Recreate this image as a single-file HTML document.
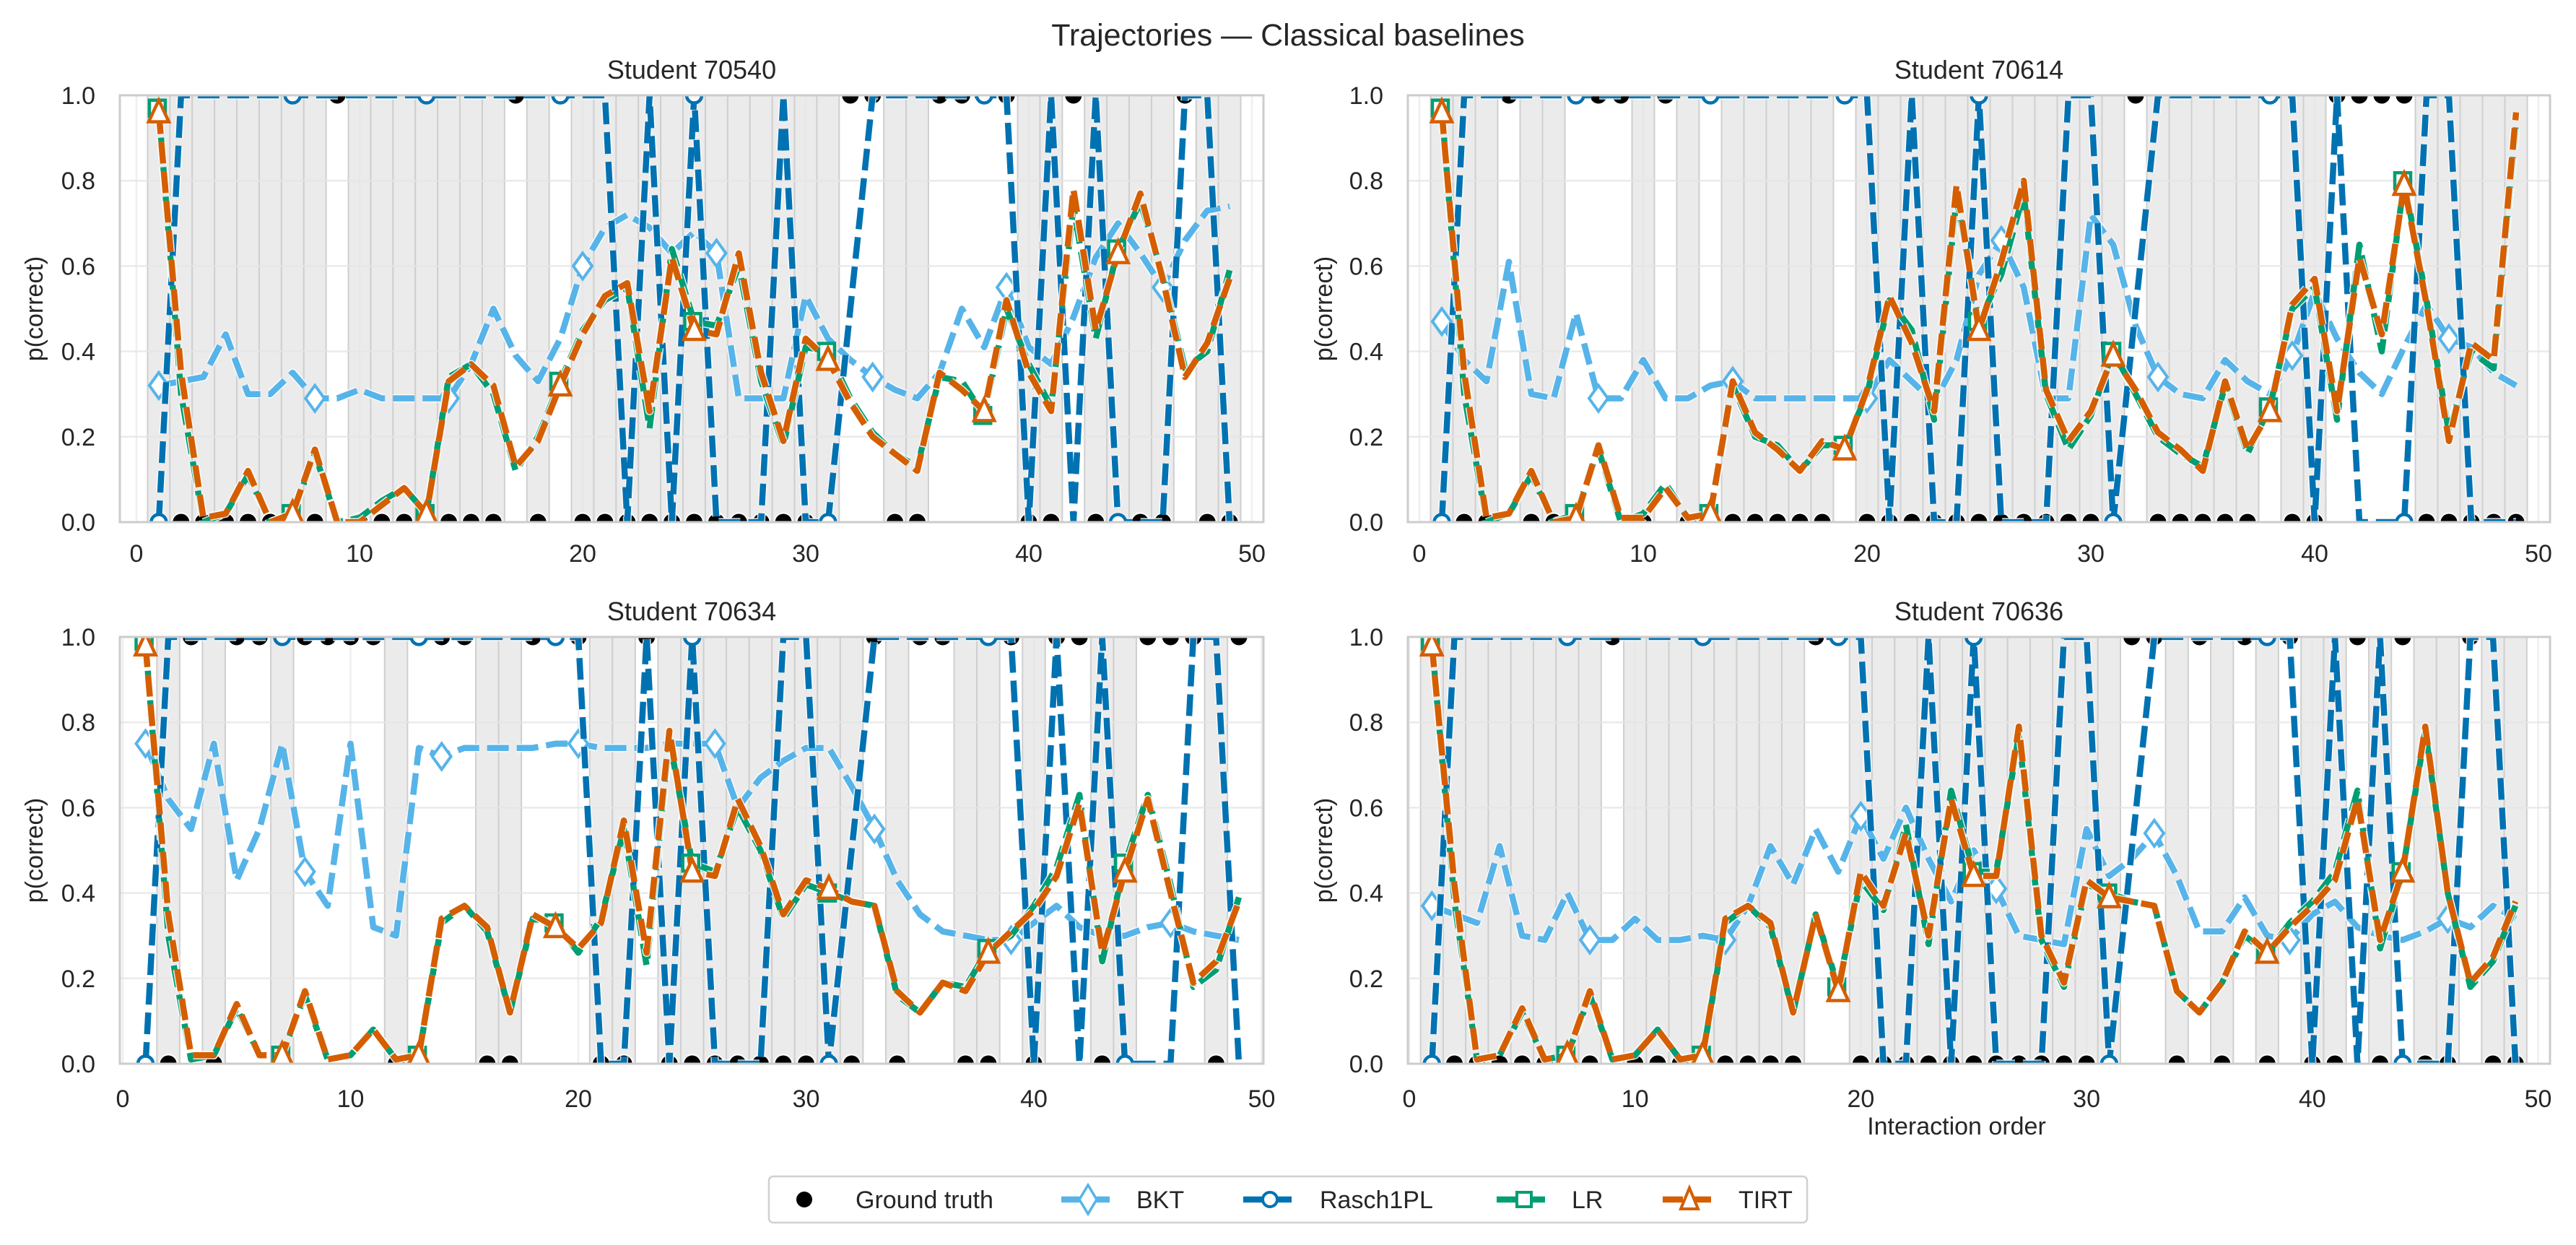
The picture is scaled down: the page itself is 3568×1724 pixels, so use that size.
<!DOCTYPE html>
<html><head><meta charset="utf-8"><style>
html,body{margin:0;padding:0;background:#fff;}
svg{display:block;font-family:"Liberation Sans",Arial,sans-serif;}
</style></head><body>
<svg id="fig" width="3568" height="1724" viewBox="0 0 3568 1724" xmlns="http://www.w3.org/2000/svg">
<rect width="3568" height="1724" fill="#fff"/>
<text x="1784" y="63" font-size="43" text-anchor="middle" fill="#262626">Trajectories — Classical baselines</text>
<g id="panels"></g>
<g>
<rect x="1065" y="1629" width="1438" height="64" rx="6" fill="#fff" stroke="#d0d0d0" stroke-width="2.5"/>
<g><circle cx="1114" cy="1661" r="11" fill="#000"/><text x="1185" y="1673" font-size="34" fill="#262626">Ground truth</text></g>
<g><line x1="1470" y1="1661" x2="1545" y2="1661" stroke="#56B4E9" stroke-width="8.5" stroke-dasharray="28 11"/><path d="M1507 1641 L1519 1661 L1507 1681 L1495 1661 Z" fill="#fff" stroke="#56B4E9" stroke-width="3.5"/><text x="1574" y="1673" font-size="34" fill="#262626">BKT</text></g>
<g><line x1="1722" y1="1661" x2="1797" y2="1661" stroke="#0072B2" stroke-width="8.5" stroke-dasharray="28 11"/><circle cx="1759" cy="1661" r="10" fill="#fff" stroke="#0072B2" stroke-width="4"/><text x="1828" y="1673" font-size="34" fill="#262626">Rasch1PL</text></g>
<g><line x1="2073" y1="1661" x2="2149" y2="1661" stroke="#009E73" stroke-width="8.5" stroke-dasharray="28 11"/><rect x="2101" y="1651" width="20" height="20" fill="#fff" stroke="#009E73" stroke-width="4"/><text x="2177" y="1673" font-size="34" fill="#262626">LR</text></g>
<g><line x1="2303" y1="1661" x2="2378" y2="1661" stroke="#D55E00" stroke-width="8.5" stroke-dasharray="28 11"/><path d="M2340 1645 L2352 1674 L2328 1674 Z" fill="#fff" stroke="#D55E00" stroke-width="4"/><text x="2408" y="1673" font-size="34" fill="#262626">TIRT</text></g>
</g>
</svg>
<script>
// ---- data ----
const students = ["70540","70614","70634","70636"];
const truth1 = [0,0,0,0,0,0,0,0,1,0,0,0,0,0,0,0,1,0,1,0,0,0,0,0,0,0,0,0,0,0,0,1,1,0,0,1,1,1,1,0,0,1,0,0,0,0,1,0,0];
const truth2 = [0,0,0,1,0,0,1,1,1,0,1,0,1,0,0,0,0,0,1,0,0,0,0,0,0,0,0,0,0,0,0,1,0,0,0,0,0,1,0,0,1,1,1,1,0,0,0,0,0];
const truth3 = [1,0,1,0,1,1,0,1,1,1,1,0,1,1,1,0,0,1,1,1,0,0,1,0,0,0,0,0,0,0,0,0,1,0,1,1,0,0,1,0,1,1,0,0,1,1,1,0,1];
const truth4 = [0,0,0,0,0,0,0,0,1,0,0,0,0,0,0,0,0,1,1,0,0,0,0,0,0,0,0,0,0,0,0,1,1,0,1,0,1,0,1,0,0,1,0,1,0,0,1,0,0];
const bkt1 = [.32,.33,.34,.44,.30,.30,.35,.29,.29,.31,.29,.29,.29,.29,.37,.50,.39,.33,.43,.60,.69,.72,.69,.63,.68,.63,.29,.29,.29,.53,.43,.38,.34,.31,.29,.35,.50,.41,.55,.41,.37,.48,.62,.70,.63,.55,.66,.73,.74];
const bkt2 = [.47,.38,.33,.61,.30,.29,.49,.29,.29,.38,.29,.29,.32,.33,.29,.29,.29,.29,.29,.29,.38,.33,.28,.38,.58,.66,.55,.29,.29,.72,.65,.46,.34,.30,.29,.38,.33,.30,.39,.54,.43,.35,.30,.41,.51,.43,.41,.35,.32];
const bkt3 = [.75,.62,.55,.75,.43,.55,.75,.45,.37,.75,.32,.30,.74,.72,.74,.74,.74,.74,.75,.75,.74,.74,.74,.75,.75,.75,.60,.67,.71,.74,.74,.65,.55,.43,.35,.31,.30,.29,.29,.33,.37,.32,.30,.30,.32,.33,.31,.30,.29];
const bkt4 = [.37,.35,.33,.51,.30,.29,.40,.29,.29,.34,.29,.29,.30,.29,.37,.51,.42,.55,.45,.58,.48,.60,.48,.38,.50,.41,.30,.29,.28,.55,.44,.48,.54,.44,.31,.31,.39,.30,.29,.35,.38,.32,.30,.29,.31,.34,.32,.37,.34];
const rasch1 = [0,1,1,1,1,1,1,1,1,1,1,1,1,1,1,1,1,1,1,1,1,0,1,0,1,0,0,0,1,0,0,.5,1,1,1,1,1,1,1,0,1,0,1,0,0,0,1,1,0];
const rasch2 = [0,1,1,1,1,1,1,1,1,1,1,1,1,1,1,1,1,1,1,1,0,1,0,0,1,0,0,0,1,1,0,.5,1,1,1,1,1,1,1,0,1,0,0,0,1,1,0,0,0];
const rasch3 = [0,1,1,1,1,1,1,1,1,1,1,1,1,1,1,1,1,1,1,1,0,0,1,0,1,0,0,0,1,1,0,.5,1,1,1,1,1,1,1,0,1,0,1,0,0,0,1,1,0];
const rasch4 = [0,1,1,1,1,1,1,1,1,1,1,1,1,1,1,1,1,1,1,1,0,0,1,0,1,0,0,0,1,1,0,.5,1,1,1,1,1,1,1,0,1,0,1,0,0,0,1,1,0];
const lr1 = [.97,.30,0,.02,.11,0,.02,.16,0,.01,.05,.08,.02,.34,.37,.30,.12,.20,.33,.45,.52,.55,.22,.64,.47,.46,.60,.33,.18,.41,.40,.29,.21,.16,.13,.34,.33,.25,.50,.37,.27,.74,.43,.64,.75,.58,.36,.40,.59];
const lr2 = [.97,.30,0,.02,.11,0,.02,.17,0,.02,.09,.01,.02,.32,.20,.18,.12,.18,.18,.30,.52,.45,.24,.76,.47,.58,.77,.30,.17,.25,.40,.30,.20,.16,.13,.32,.16,.27,.50,.55,.24,.65,.40,.80,.52,.21,.40,.36,.93];
const lr3 = [.99,.30,.01,.02,.13,.02,.02,.16,.01,.02,.08,.01,.02,.33,.37,.31,.12,.34,.33,.26,.34,.55,.23,.76,.47,.45,.60,.50,.34,.42,.40,.38,.37,.16,.12,.19,.18,.27,.30,.37,.46,.63,.24,.47,.63,.42,.18,.22,.39];
const lr4 = [.99,.38,.01,.02,.12,.01,.02,.16,.01,.02,.08,.01,.02,.33,.37,.32,.12,.35,.18,.43,.36,.56,.28,.64,.45,.45,.77,.29,.18,.42,.40,.38,.37,.17,.12,.19,.30,.26,.33,.38,.45,.64,.27,.45,.78,.40,.18,.24,.37];
const tirt1 = [.96,.35,.01,.02,.12,0,.02,.17,0,0,.04,.08,.02,.33,.37,.32,.13,.19,.32,.44,.53,.56,.26,.62,.45,.44,.63,.35,.19,.43,.38,.28,.20,.16,.12,.35,.31,.26,.52,.35,.26,.78,.45,.63,.77,.57,.34,.42,.57];
const tirt2 = [.96,.35,.01,.02,.12,0,.01,.18,.01,.01,.08,.01,.02,.33,.21,.17,.12,.19,.17,.31,.53,.42,.26,.79,.45,.61,.80,.31,.19,.26,.39,.31,.21,.17,.12,.33,.17,.26,.51,.57,.26,.62,.44,.79,.51,.19,.42,.38,.96];
const tirt3 = [.98,.35,.02,.02,.14,.02,.02,.17,.01,.02,.08,.01,.02,.34,.37,.32,.12,.35,.32,.27,.33,.57,.26,.78,.45,.44,.62,.51,.35,.43,.41,.38,.37,.17,.12,.19,.17,.26,.31,.36,.44,.61,.26,.45,.62,.40,.19,.24,.38];
const tirt4 = [.98,.42,.01,.02,.13,.01,.02,.17,.01,.02,.08,.01,.02,.34,.37,.33,.12,.35,.17,.45,.37,.54,.30,.62,.44,.44,.79,.30,.19,.43,.39,.38,.37,.17,.12,.19,.31,.26,.32,.37,.43,.62,.29,.45,.79,.40,.19,.25,.38];
const xTicks = [0,10,20,30,40,50];
const yTicks = [0,0.2,0.4,0.6,0.8,1.0];
const yTickLabels = ["0.0","0.2","0.4","0.6","0.8","1.0"];
const bktMarkIdx = [0,7,13,19,25,32,38,45];
const otherMarkIdx = [0,6,12,18,24,30,37,43];

const truths=[truth1,truth2,truth3,truth4], bkts=[bkt1,bkt2,bkt3,bkt4], raschs=[rasch1,rasch2,rasch3,rasch4], lrs=[lr1,lr2,lr3,lr4], tirts=[tirt1,tirt2,tirt3,tirt4];
const layout=[
 {L:166,R:1750,T:132,B:723,x0:189,u:30.9,ylab:50,tickR:132,xlabY:778},
 {L:1950,R:3532,T:132,B:723,x0:1966,u:31.0,ylab:1836,tickR:1916,xlabY:778},
 {L:166,R:1750,T:882,B:1473,x0:170,u:31.55,ylab:50,tickR:132,xlabY:1533},
 {L:1950,R:3532,T:882,B:1473,x0:1952,u:31.27,ylab:1836,tickR:1916,xlabY:1533}];
const NS="http://www.w3.org/2000/svg";
function mk(tag,attrs,parent){const e=document.createElementNS(NS,tag);for(const k in attrs)e.setAttribute(k,attrs[k]);if(parent)parent.appendChild(e);return e;}
const root=document.getElementById('panels');
const colors={bkt:"#56B4E9",rasch:"#0072B2",lr:"#009E73",tirt:"#D55E00"};
for(let p=0;p<4;p++){
 const Lp=layout[p];
 const sx=v=>Lp.x0+Lp.u*v;
 const sy=v=>Lp.B-(Lp.B-Lp.T)*v;
 const g=mk('g',{},root);
 
 
 mk('clipPath',{id:'clip'+p},g);
 mk('rect',{x:Lp.L,y:Lp.T,width:Lp.R-Lp.L,height:Lp.B-Lp.T},g.lastChild);
 const plot=mk('g',{'clip-path':'url(#clip'+p+')'},g);
 truths[p].forEach((t,i)=>{ if(t===0){
   const r=mk('rect',{x:sx(i+0.5),y:Lp.T,width:Lp.u,height:Lp.B-Lp.T,fill:"#ebebeb",stroke:"#cfcfcf","stroke-width":2},plot);
   
   
 }});
 yTicks.forEach(v=>{mk('line',{x1:Lp.L,x2:Lp.R,y1:sy(v),y2:sy(v),stroke:"#e6e6e6","stroke-width":2.5,opacity:0.8},plot);});
 xTicks.forEach(v=>{mk('line',{x1:sx(v),x2:sx(v),y1:Lp.T,y2:Lp.B,stroke:"#e6e6e6","stroke-width":2.5,opacity:0.6},plot);});
 truths[p].forEach((t,i)=>{
   const c=mk('circle',{cx:sx(i+1),cy:sy(t),r:12.5,fill:"#000",stroke:"#fff","stroke-width":2},plot);
   
   
 });
 const series=[["bkt",bkts[p],bktMarkIdx],["rasch",raschs[p],otherMarkIdx],["lr",lrs[p],otherMarkIdx],["tirt",tirts[p],otherMarkIdx]];
 series.forEach(([key,vals,marks])=>{
   const d=vals.map((v,i)=>(i?'L':'M')+sx(i+1).toFixed(1)+' '+sy(v).toFixed(1)).join(' ');
   mk('path',{d:d,fill:"none",stroke:"#fff","stroke-width":11.5,"stroke-dasharray":"30 11","stroke-linejoin":"round",opacity:0.85},plot);
   const line=mk('path',{d:d,fill:"none",stroke:colors[key],"stroke-width":8.5,"stroke-dasharray":"30 11","stroke-linejoin":"round"},plot);
   
   
   marks.forEach(i=>{
     const x=sx(i+1), y=sy(vals[i]); let m;
     if(key==="bkt") m=mk('path',{d:`M${x} ${y-18} L${x+13} ${y} L${x} ${y+18} L${x-13} ${y} Z`,fill:"#fff",stroke:colors.bkt,"stroke-width":4},plot);
     else if(key==="rasch") m=mk('circle',{cx:x,cy:y,r:10.5,fill:"#fff",stroke:colors.rasch,"stroke-width":4.5},plot);
     else if(key==="lr") m=mk('rect',{x:x-13,y:y-11,width:22,height:22,fill:"#fff",stroke:colors.lr,"stroke-width":4.5},plot);
     else m=mk('path',{d:`M${x} ${y-17} L${x+14} ${y+13} L${x-14} ${y+13} Z`,fill:"#fff",stroke:colors.tirt,"stroke-width":4.5},plot);
     
     
   });
 });
 const fr=mk('rect',{x:Lp.L,y:Lp.T,width:Lp.R-Lp.L,height:Lp.B-Lp.T,fill:"none",stroke:"#cccccc","stroke-width":3},g);
 
 
 yTicks.forEach((v,i)=>{const t=mk('text',{x:Lp.tickR,y:sy(v)+12,"font-size":34,"text-anchor":"end",fill:"#262626"},g);t.textContent=yTickLabels[i];
   
   });
 xTicks.forEach(v=>{const t=mk('text',{x:sx(v),y:Lp.xlabY,"font-size":34,"text-anchor":"middle",fill:"#262626"},g);t.textContent=String(v);
   
   });
 const yl=mk('text',{x:Lp.ylab,y:(Lp.T+Lp.B)/2,"font-size":34,"text-anchor":"middle",fill:"#262626",transform:`rotate(-90 ${Lp.ylab} ${(Lp.T+Lp.B)/2})`,"dominant-baseline":"middle"},g);
 yl.textContent="p(correct)";
 
 
 const st=mk('text',{x:(Lp.L+Lp.R)/2,y:Lp.T-23,"font-size":36,"text-anchor":"middle",fill:"#262626"},g);
 st.textContent="Student "+students[p];
 
 
}
const xl=mk('text',{x:2710,y:1571,"font-size":34,"text-anchor":"middle",fill:"#262626"},document.getElementById('fig'));
xl.textContent="Interaction order";


</script>
</body></html>
